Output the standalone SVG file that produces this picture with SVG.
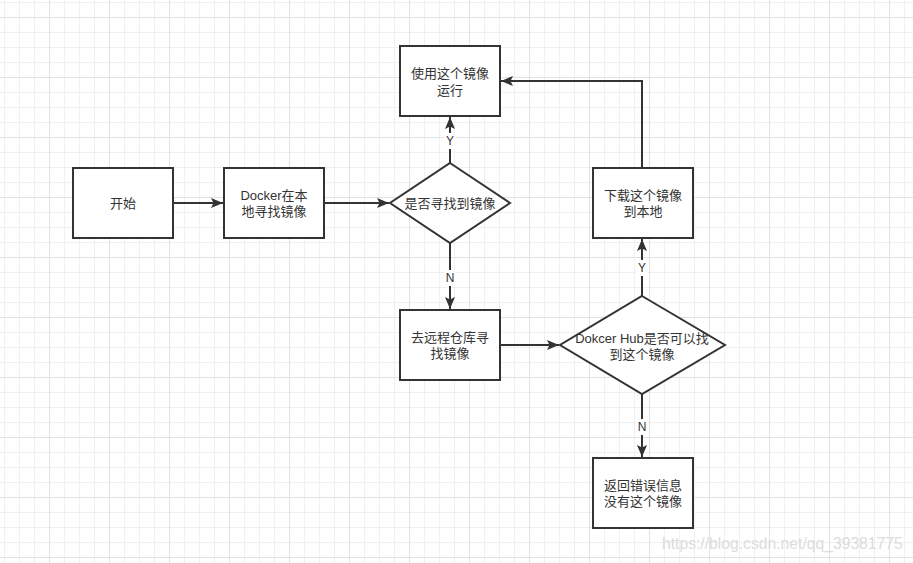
<svg xmlns="http://www.w3.org/2000/svg" width="913" height="563" viewBox="0 0 913 563">
  <defs>
    <pattern id="grid" patternUnits="userSpaceOnUse" x="49" y="17" width="60" height="60">
      <rect x="15" y="0" width="1" height="60" fill="#f0f0f0"/>
      <rect x="30" y="0" width="1" height="60" fill="#f0f0f0"/>
      <rect x="45" y="0" width="1" height="60" fill="#f0f0f0"/>
      <rect x="0" y="15" width="60" height="1" fill="#f0f0f0"/>
      <rect x="0" y="30" width="60" height="1" fill="#f0f0f0"/>
      <rect x="0" y="45" width="60" height="1" fill="#f0f0f0"/>
      <rect x="0" y="0" width="1" height="60" fill="#e2e2e2"/>
      <rect x="0" y="0" width="60" height="1" fill="#e2e2e2"/>
    </pattern>
    <marker id="arrow" markerUnits="userSpaceOnUse" markerWidth="14" markerHeight="12" refX="12" refY="5" orient="auto">
      <path d="M0,0 L12,5 L0,10 L2.5,5 z" fill="#333333"/>
    </marker>
    <style>
      .node rect, .node polygon { fill: #ffffff; stroke: #333333; stroke-width: 2; }
      .lbl { font-family: "Liberation Sans", "Noto Sans CJK SC", sans-serif; font-size: 13px; fill: #333333; text-anchor: middle; dominant-baseline: central; }
      .edge { fill: none; stroke: #333333; stroke-width: 2; marker-end: url(#arrow); }
      .elbl { font-family: "Liberation Sans", sans-serif; font-size: 12px; fill: #333333; text-anchor: middle; dominant-baseline: central; }
    </style>
  </defs>
  <rect x="0" y="0" width="913" height="563" fill="#ffffff"/>
  <rect x="0" y="0" width="913" height="563" fill="url(#grid)"/>

  <g id="connectors">
    <path class="edge" d="M173,203 L223,203"/>
    <path class="edge" d="M324,203 L389,203"/>
    <path class="edge" d="M450,163 L450,117"/>
    <path class="edge" d="M450,243 L450,309"/>
    <path class="edge" d="M500,345 L559,345"/>
    <path class="edge" d="M642,296 L642,239"/>
    <path class="edge" d="M642,394 L642,457"/>
    <path class="edge" d="M642,168 L642,81 L501,81"/>
    <rect x="444" y="133" width="12" height="16" fill="#ffffff"/>
    <text class="elbl" x="450" y="141">Y</text>
    <rect x="444" y="270" width="12" height="16" fill="#ffffff"/>
    <text class="elbl" x="450" y="278">N</text>
    <rect x="636" y="260" width="12" height="16" fill="#ffffff"/>
    <text class="elbl" x="642" y="268">Y</text>
    <rect x="636" y="419" width="12" height="16" fill="#ffffff"/>
    <text class="elbl" x="642" y="427">N</text>
  </g>

  <g id="start" class="node">
    <rect x="73" y="168" width="100" height="70"/>
    <text class="lbl" x="123" y="203">开始</text>
  </g>
  <g id="local-search" class="node">
    <rect x="224" y="168" width="100" height="70"/>
    <text class="lbl" x="274" y="195">Docker在本</text>
    <text class="lbl" x="274" y="211">地寻找镜像</text>
  </g>
  <g id="found-local" class="node">
    <polygon points="450,163 510,203 450,243 390,203"/>
    <text class="lbl" x="450" y="203">是否寻找到镜像</text>
  </g>
  <g id="run-image" class="node">
    <rect x="400" y="46" width="100" height="70"/>
    <text class="lbl" x="450" y="73">使用这个镜像</text>
    <text class="lbl" x="450" y="90">运行</text>
  </g>
  <g id="remote-search" class="node">
    <rect x="400" y="310" width="100" height="70"/>
    <text class="lbl" x="450" y="337">去远程仓库寻</text>
    <text class="lbl" x="450" y="353">找镜像</text>
  </g>
  <g id="hub-found" class="node">
    <polygon points="642,296 725,345 642,394 560,345"/>
    <text class="lbl" x="642" y="338">Dokcer Hub是否可以找</text>
    <text class="lbl" x="642" y="354">到这个镜像</text>
  </g>
  <g id="download" class="node">
    <rect x="593" y="168" width="100" height="70"/>
    <text class="lbl" x="643" y="195">下载这个镜像</text>
    <text class="lbl" x="643" y="211">到本地</text>
  </g>
  <g id="error" class="node">
    <rect x="593" y="458" width="100" height="70"/>
    <text class="lbl" x="643" y="485">返回错误信息</text>
    <text class="lbl" x="643" y="501">没有这个镜像</text>
  </g>

  <text x="662" y="549" font-family="Liberation Sans, sans-serif" font-size="15.7" fill="#dcdcdc">https://blog.csdn.net/qq_39381775</text>
</svg>
